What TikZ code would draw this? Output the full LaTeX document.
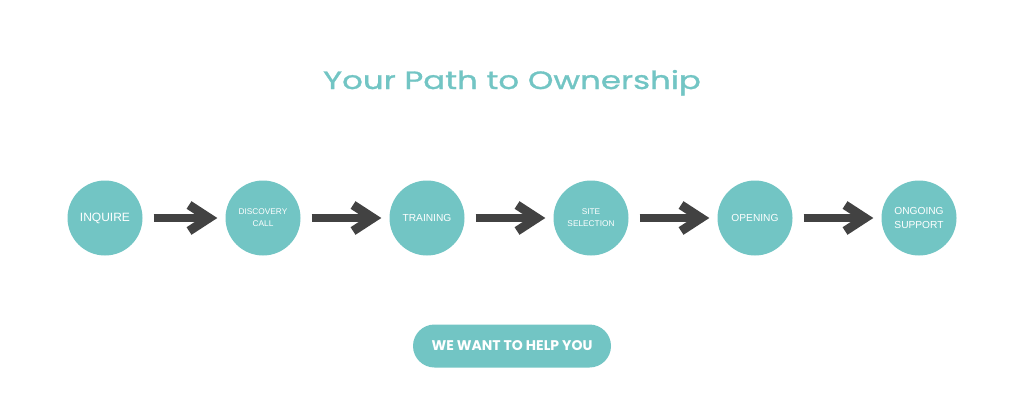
\documentclass[tikz,border=0pt]{standalone}
\usepackage{fontspec}
\setmainfont{Liberation Sans}
\newfontfamily\headfont{Poppins}
\newfontfamily\titlefont[FakeStretch=1.3, FakeBold=1.2]{Poppins}
\usetikzlibrary{arrows.meta}
\definecolor{pathteal}{HTML}{72C5C4}
\definecolor{marker}{HTML}{424242}
\tikzset{
  stepcircle/.style={circle, fill=pathteal, minimum size=75pt, inner sep=0pt, text=white, align=center},
  markerarrow/.style={draw=marker, line width=8pt, shorten <=11pt, shorten >=8pt, -{Straight Barb[length=20pt,width=26pt,line width=9pt]}}
}
\begin{document}
\begin{tikzpicture}[x=1pt,y=-1pt]
\useasboundingbox[fill=white] (0,0) rectangle (1024,404);
\node[anchor=base, text=pathteal, font=\titlefont\fontsize{25}{30}\selectfont] (title) at (512,89) {Your Path to Ownership};

\node[stepcircle, font=\fontsize{12}{14}\selectfont] (inquire) at (105,218) {INQUIRE};
\node[stepcircle, font=\fontsize{8.3}{12}\selectfont] (discovery) at (263,218) {DISCOVERY\\CALL};
\node[stepcircle, font=\fontsize{10.2}{14}\selectfont] (training) at (427,218) {TRAINING};
\node[stepcircle, font=\fontsize{8.3}{12}\selectfont] (site) at (591,218) {SITE\\SELECTION};
\node[stepcircle, font=\fontsize{10.2}{14}\selectfont] (opening) at (755,218) {OPENING};
\node[stepcircle, font=\fontsize{10.2}{14}\selectfont] (support) at (919,218) {ONGOING\\SUPPORT};

\path[markerarrow] (inquire) -- (discovery);
\path[markerarrow] (discovery) -- (training);
\path[markerarrow] (training) -- (site);
\path[markerarrow] (site) -- (opening);
\path[markerarrow] (opening) -- (support);

\node[fill=pathteal, rounded corners=21.5pt, minimum width=198pt, minimum height=43pt, text=white, font=\headfont\bfseries\fontsize{14}{16}\selectfont] (help) at (512,346) {WE WANT TO HELP YOU};
\end{tikzpicture}
\end{document}
